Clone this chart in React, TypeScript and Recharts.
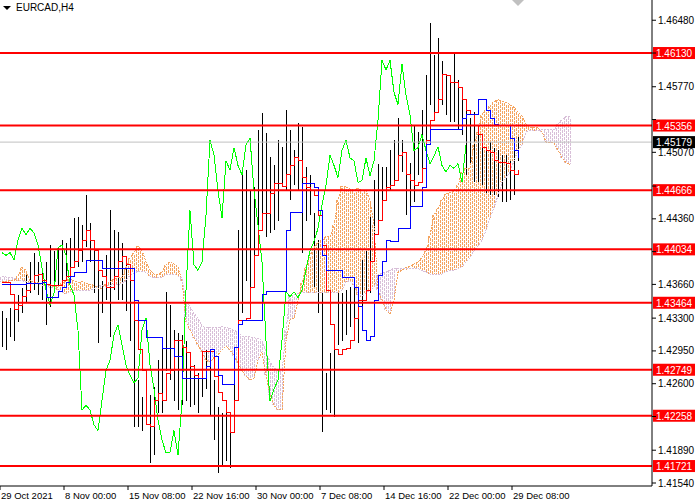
import { ComposedChart, Bar, Line, XAxis, YAxis, ReferenceLine, ReferenceDot } from "recharts";

// time axis, one slot = 4px (two H4 bars)
const TIME_TICKS = [0, 16, 32, 48, 64, 80, 96, 112, 128];
const TIME_LABELS = [
  "29 Oct 2021", "8 Nov 00:00", "15 Nov 08:00", "22 Nov 16:00", "30 Nov 00:00",
  "7 Dec 08:00", "14 Dec 16:00", "22 Dec 00:00", "29 Dec 08:00",
];
const PRICE_TICKS = [
  1.4648, 1.4613, 1.4577, 1.4542, 1.4507, 1.4471, 1.4436, 1.4401, 1.4366, 1.433,
  1.4295, 1.426, 1.4225, 1.4189, 1.4154,
];
const LEVELS = [1.4613, 1.45356, 1.44666, 1.44034, 1.43464, 1.42749, 1.42258, 1.41721];
const BID = 1.45179;

const HIGH = [
  1.4338, 1.4330, 1.4341, 1.4344, 1.4355, 1.4362, 1.4376, 1.4390, 1.4400, 1.4390,
  1.4384, 1.4390, 1.4408, 1.4402, 1.4405, 1.4413, 1.4410, 1.4416, 1.4437, 1.4438,
  1.4429, 1.4461, 1.4432, 1.4413, 1.4384, 1.4370, 1.4397, 1.4445, 1.4424, 1.4422,
  1.4410, 1.4395, 1.4370, 1.4328, 1.4264, 1.4246, 1.4242, 1.4248, 1.4257, 1.4285,
  1.4299, 1.4358, 1.4344, 1.4317, 1.4314, 1.4312, 1.4306, 1.4282, 1.4280, 1.4271,
  1.4291, 1.4296, 1.4278, 1.4264, 1.4235, 1.4229, 1.4232, 1.4214, 1.4274, 1.4424,
  1.4488, 1.4488, 1.4466, 1.4470, 1.4531, 1.4549, 1.4528, 1.4502, 1.4493, 1.4520,
  1.4513, 1.4552, 1.4531, 1.4509, 1.4538, 1.4534, 1.4491, 1.4483, 1.4442, 1.4413,
  1.4357, 1.4271, 1.4293, 1.4296, 1.4357, 1.4357, 1.4360, 1.4363, 1.4363, 1.4353,
  1.4392, 1.4402, 1.4438, 1.4477, 1.4495, 1.4491, 1.4491, 1.4509, 1.4520, 1.4544,
  1.4520, 1.4504, 1.4496, 1.4536, 1.4529, 1.4552, 1.4590, 1.4645, 1.4611, 1.4629,
  1.4605, 1.4590, 1.4587, 1.4613, 1.4584, 1.4568, 1.4555, 1.4544, 1.4550, 1.4526,
  1.4520, 1.4512, 1.4518, 1.4512, 1.4509, 1.4504, 1.4504, 1.4498, 1.4509, 1.4523,
];
const LOW = [
  1.4299, 1.4296, 1.4310, 1.4306, 1.4326, 1.4335, 1.4346, 1.4357, 1.4360, 1.4355,
  1.4349, 1.4323, 1.4342, 1.4358, 1.4365, 1.4368, 1.4374, 1.4379, 1.4389, 1.4385,
  1.4390, 1.4406, 1.4390, 1.4357, 1.4303, 1.4335, 1.4349, 1.4310, 1.4360, 1.4349,
  1.4349, 1.4338, 1.4306, 1.4214, 1.4214, 1.4210, 1.4218, 1.4175, 1.4184, 1.4229,
  1.4229, 1.4274, 1.4264, 1.4242, 1.4232, 1.4237, 1.4242, 1.4235, 1.4237, 1.4229,
  1.4246, 1.4254, 1.4225, 1.4200, 1.4165, 1.4173, 1.4178, 1.4170, 1.4210, 1.4278,
  1.4335, 1.4370, 1.4338, 1.4374, 1.4424, 1.4434, 1.4417, 1.4421, 1.4424, 1.4434,
  1.4472, 1.4466, 1.4456, 1.4472, 1.4466, 1.4399, 1.4434, 1.4440, 1.4363, 1.4335,
  1.4208, 1.4232, 1.4229, 1.4224, 1.4301, 1.4306, 1.4312, 1.4321, 1.4314, 1.4303,
  1.4338, 1.4357, 1.4357, 1.4406, 1.4434, 1.4440, 1.4466, 1.4466, 1.4475, 1.4480,
  1.4486, 1.4440, 1.4448, 1.4454, 1.4483, 1.4488, 1.4493, 1.4558, 1.4547, 1.4558,
  1.4558, 1.4547, 1.4539, 1.4539, 1.4531, 1.4526, 1.4483, 1.4493, 1.4475, 1.4475,
  1.4472, 1.4464, 1.4461, 1.4461, 1.4459, 1.4454, 1.4454, 1.4456, 1.4461, 1.4498,
];
const TENKAN = [
  1.4368, 1.4368, 1.4355, 1.4339, 1.4344, 1.4353, 1.4360, 1.4367, 1.4376, 1.4377,
  1.4370, 1.4366, 1.4365, 1.4365, 1.4365, 1.4370, 1.4374, 1.4384, 1.4390, 1.4402,
  1.4413, 1.4424, 1.4413, 1.4402, 1.4381, 1.4374, 1.4363, 1.4363, 1.4374, 1.4390,
  1.4396, 1.4387, 1.4370, 1.4328, 1.4296, 1.4274, 1.4216, 1.4214, 1.4242, 1.4250,
  1.4242, 1.4271, 1.4274, 1.4306, 1.4306, 1.4299, 1.4293, 1.4278, 1.4269, 1.4266,
  1.4294, 1.4294, 1.4294, 1.4268, 1.4251, 1.4242, 1.4229, 1.4208, 1.4242, 1.4328,
  1.4328, 1.4330, 1.4363, 1.4397, 1.4424, 1.4442, 1.4442, 1.4463, 1.4474, 1.4474,
  1.4470, 1.4483, 1.4493, 1.4502, 1.4498, 1.4480, 1.4469, 1.4466, 1.4461, 1.4440,
  1.4408, 1.4360, 1.4323, 1.4296, 1.4291, 1.4296, 1.4298, 1.4306, 1.4330, 1.4349,
  1.4349, 1.4360, 1.4390, 1.4419, 1.4434, 1.4456, 1.4469, 1.4472, 1.4477, 1.4504,
  1.4507, 1.4483, 1.4477, 1.4472, 1.4475, 1.4490, 1.4520, 1.4541, 1.4550, 1.4563,
  1.4590, 1.4589, 1.4582, 1.4582, 1.4576, 1.4563, 1.4552, 1.4547, 1.4536, 1.4526,
  1.4512, 1.4509, 1.4507, 1.4498, 1.4496, 1.4496, 1.4495, 1.4488, 1.4483, 1.4488,
];
const KIJUN = [
  1.4366, 1.4366, 1.4366, 1.4366, 1.4366, 1.4366, 1.4367, 1.4367, 1.4367, 1.4367,
  1.4368, 1.4352, 1.4352, 1.4352, 1.4358, 1.4363, 1.4368, 1.4374, 1.4379, 1.4379,
  1.4379, 1.4391, 1.4391, 1.4391, 1.4391, 1.4383, 1.4383, 1.4383, 1.4383, 1.4383,
  1.4383, 1.4383, 1.4383, 1.4349, 1.4328, 1.4328, 1.4309, 1.4309, 1.4309, 1.4309,
  1.4298, 1.4298, 1.4298, 1.4289, 1.4289, 1.4266, 1.4266, 1.4266, 1.4266, 1.4266,
  1.4266, 1.4278, 1.4296, 1.4289, 1.4269, 1.4259, 1.4259, 1.4259, 1.4299, 1.4323,
  1.4328, 1.4328, 1.4328, 1.4328, 1.4328, 1.4355, 1.4358, 1.4358, 1.4358, 1.4358,
  1.4358, 1.4424, 1.4443, 1.4443, 1.4443, 1.4474, 1.4474, 1.4474, 1.4469, 1.4445,
  1.4397, 1.4381, 1.4381, 1.4381, 1.4381, 1.4373, 1.4373, 1.4373, 1.4363, 1.4342,
  1.4317, 1.4306, 1.4310, 1.4349, 1.4376, 1.4390, 1.4413, 1.4412, 1.4412, 1.4426,
  1.4426, 1.4426, 1.4449, 1.4449, 1.4449, 1.4469, 1.4515, 1.4531, 1.4531, 1.4531,
  1.4531, 1.4531, 1.4531, 1.4531, 1.4531, 1.4543, 1.4547, 1.4547, 1.4547, 1.4563,
  1.4563, 1.4552, 1.4543, 1.4537, 1.4536, 1.4536, 1.4536, 1.4522, 1.4509, 1.4501,
];
const CHIKOU = [
  1.4400, 1.4397, 1.4400, 1.4392, 1.4413, 1.4426, 1.4419, 1.4426, 1.4421, 1.4408,
  1.4384, 1.4360, 1.4344, 1.4357, 1.4405, 1.4408, 1.4397, 1.4365, 1.4355, 1.4317,
  1.4232, 1.4237, 1.4232, 1.4216, 1.4210, 1.4242, 1.4274, 1.4285, 1.4312, 1.4323,
  1.4301, 1.4280, 1.4269, 1.4261, 1.4266, 1.4317, 1.4330, 1.4280, 1.4254, 1.4221,
  1.4200, 1.4186, 1.4187, 1.4210, 1.4184, 1.4242, 1.4360, 1.4445, 1.4387, 1.4381,
  1.4390, 1.4440, 1.4520, 1.4504, 1.4466, 1.4437, 1.4498, 1.4488, 1.4512, 1.4493,
  1.4483, 1.4515, 1.4522, 1.4466, 1.4429, 1.4390, 1.4306, 1.4242, 1.4254, 1.4264,
  1.4306, 1.4358, 1.4353, 1.4358, 1.4352, 1.4360, 1.4381, 1.4402, 1.4412, 1.4426,
  1.4451, 1.4472, 1.4504, 1.4493, 1.4480, 1.4509, 1.4520, 1.4501, 1.4498, 1.4475,
  1.4477, 1.4501, 1.4482, 1.4498, 1.4541, 1.4605, 1.4595, 1.4605, 1.4571, 1.4558,
  1.4601, 1.4568, 1.4547, 1.4509, 1.4512, 1.4526, 1.4509, 1.4495, 1.4503, 1.4513,
  1.4493, 1.4486, 1.4493, 1.4490, 1.4495, 1.4475, 1.4515,
];
const SPAN_A = [
  1.4369, 1.4369, 1.4370, 1.4370, 1.4375, 1.4384, 1.4381, 1.4370, 1.4368, 1.4368,
  1.4367, 1.4366, 1.4365, 1.4364, 1.4363, 1.4367, 1.4370, 1.4372, 1.4370, 1.4368,
  1.4369, 1.4367, 1.4366, 1.4365, 1.4362, 1.4362, 1.4366, 1.4369, 1.4372, 1.4373,
  1.4373, 1.4384, 1.4394, 1.4400, 1.4407, 1.4402, 1.4390, 1.4381, 1.4377, 1.4376,
  1.4379, 1.4387, 1.4390, 1.4388, 1.4384, 1.4370, 1.4326, 1.4317, 1.4309, 1.4301,
  1.4294, 1.4285, 1.4283, 1.4288, 1.4291, 1.4296, 1.4300, 1.4296, 1.4290, 1.4282,
  1.4274, 1.4268, 1.4264, 1.4266, 1.4285, 1.4294, 1.4269, 1.4248, 1.4237, 1.4232,
  1.4232, 1.4306, 1.4328, 1.4330, 1.4349, 1.4367, 1.4384, 1.4397, 1.4405, 1.4410,
  1.4413, 1.4417, 1.4417, 1.4429, 1.4456, 1.4471, 1.4470, 1.4468, 1.4466, 1.4469,
  1.4466, 1.4466, 1.4456, 1.4429, 1.4360, 1.4349, 1.4339, 1.4334, 1.4349, 1.4379,
  1.4381, 1.4384, 1.4385, 1.4388, 1.4390, 1.4394, 1.4402, 1.4418, 1.4440, 1.4447,
  1.4456, 1.4463, 1.4464, 1.4466, 1.4472, 1.4486, 1.4490, 1.4490, 1.4515, 1.4529,
  1.4547, 1.4552, 1.4556, 1.4561, 1.4563, 1.4562, 1.4560, 1.4558, 1.4555, 1.4550,
  1.4546, 1.4537, 1.4534, 1.4534, 1.4533, 1.4529, 1.4518, 1.4517, 1.4517, 1.4509,
  1.4501, 1.4496, 1.4494,
];
const SPAN_B = [
  1.4374, 1.4374, 1.4373, 1.4373, 1.4370, 1.4370, 1.4369, 1.4368, 1.4367, 1.4367,
  1.4365, 1.4364, 1.4363, 1.4362, 1.4360, 1.4358, 1.4356, 1.4358, 1.4360, 1.4360,
  1.4360, 1.4359, 1.4360, 1.4361, 1.4364, 1.4365, 1.4364, 1.4365, 1.4366, 1.4366,
  1.4367, 1.4370, 1.4376, 1.4378, 1.4380, 1.4380, 1.4379, 1.4375, 1.4373, 1.4373,
  1.4374, 1.4376, 1.4377, 1.4377, 1.4375, 1.4373, 1.4347, 1.4343, 1.4335, 1.4330,
  1.4321, 1.4320, 1.4320, 1.4320, 1.4320, 1.4321, 1.4320, 1.4319, 1.4317, 1.4315,
  1.4311, 1.4310, 1.4310, 1.4309, 1.4308, 1.4306, 1.4294, 1.4283, 1.4277, 1.4274,
  1.4272, 1.4317, 1.4354, 1.4355, 1.4356, 1.4357, 1.4357, 1.4357, 1.4357, 1.4357,
  1.4357, 1.4357, 1.4357, 1.4357, 1.4357, 1.4360, 1.4369, 1.4370, 1.4365, 1.4355,
  1.4353, 1.4357, 1.4360, 1.4363, 1.4376, 1.4378, 1.4379, 1.4381, 1.4383, 1.4383,
  1.4383, 1.4383, 1.4383, 1.4383, 1.4383, 1.4381, 1.4379, 1.4377, 1.4377, 1.4377,
  1.4377, 1.4379, 1.4381, 1.4381, 1.4383, 1.4385, 1.4390, 1.4394, 1.4402, 1.4407,
  1.4413, 1.4424, 1.4437, 1.4448, 1.4461, 1.4475, 1.4480, 1.4486, 1.4498, 1.4509,
  1.4515, 1.4529, 1.4530, 1.4530, 1.4530, 1.4531, 1.4531, 1.4531, 1.4531, 1.4537,
  1.4542, 1.4545, 1.4545,
];

const rows = SPAN_A.map((a, i) => {
  const b = SPAN_B[i];
  return {
    x: i + 0.5,
    range: i < HIGH.length ? [LOW[i], HIGH[i]] : undefined,
    tenkan: TENKAN[i],
    kijun: KIJUN[i],
    chikou: CHIKOU[i],
    spanA: a,
    spanB: b,
    cloud: [Math.min(a, b), Math.max(a, b)],
  };
});

const FONT = "Liberation Sans";

// price labels that sit under a level tag are not drawn
const covered = (v: number) =>
  [...LEVELS, BID].some((lv) => Math.abs(lv - v) < 0.0008);

function PriceBar(props: any) {
  const { x, y, width, height } = props;
  if (y == null || height == null || isNaN(y)) return null;
  const cx = Math.round(x + width / 2) + 0.5;
  return (
    <line x1={cx} x2={cx} y1={y} y2={y + height} stroke="#000" strokeWidth={1} shapeRendering="crispEdges" />
  );
}

function CloudHatch(props: any) {
  const { x, y, width, height, payload } = props;
  if (y == null || height == null || isNaN(y)) return null;
  const color = payload.spanA >= payload.spanB ? "#f4a460" : "#d8bfd8";
  const cx = Math.round(x + width / 2);
  return (
    <g stroke={color} strokeWidth={1} strokeDasharray="3 1" shapeRendering="crispEdges">
      <line x1={cx - 1.5} x2={cx - 1.5} y1={y} y2={y + height} />
      <line x1={cx + 0.5} x2={cx + 0.5} y1={y + 2} y2={y + height} />
    </g>
  );
}

function PriceTag({ viewBox, text, bg }: any) {
  if (!viewBox) return null;
  const x = viewBox.x + viewBox.width + 1;
  const y = viewBox.y;
  return (
    <g>
      <rect x={x} y={y - 6} width={42} height={12} fill={bg} />
      <text x={x + 3} y={y + 4} fill="#fff" fontSize={10} fontFamily={FONT}>
        {text}
      </text>
    </g>
  );
}

function PriceTick({ x, y, payload }: any) {
  if (covered(payload.value)) return null;
  return (
    <text x={x} y={y + 3.5} fontSize={10} fontFamily={FONT} fill="#000">
      {payload.value.toFixed(5)}
    </text>
  );
}

function TimeTick({ x, y, payload }: any) {
  const idx = TIME_TICKS.indexOf(payload.value);
  return (
    <text x={x + 1} y={y + 6.5} fontSize={9.5} fontFamily={FONT} fill="#000">
      {TIME_LABELS[idx]}
    </text>
  );
}

function ShiftMark({ cx }: any) {
  return <polygon points={`${cx - 6},0 ${cx + 6},0 ${cx},6`} fill="#c0c0c0" />;
}

const lineProps = {
  dot: false,
  activeDot: false,
  isAnimationActive: false,
  strokeWidth: 1,
  shapeRendering: "crispEdges",
} as const;

export default function App() {
  return (
    <div style={{ position: "absolute", left: 0, top: 0, width: 700, height: 500, background: "#fff" }}>
      <ComposedChart
        width={700}
        height={500}
        data={rows}
        margin={{ top: 0, right: 0, bottom: 0, left: 0 }}
        barGap={-1}
      >
        <XAxis
          dataKey="x"
          type="number"
          domain={[0, 163]}
          allowDataOverflow
          ticks={TIME_TICKS}
          interval={0}
          tick={<TimeTick />}
          height={14}
          axisLine={{ stroke: "#000" }}
          tickLine={{ stroke: "#000" }}
          tickSize={4}
        />
        <YAxis
          orientation="right"
          type="number"
          domain={[1.41508, 1.46696]}
          allowDataOverflow
          ticks={PRICE_TICKS}
          interval={0}
          tick={<PriceTick />}
          width={48}
          axisLine={{ stroke: "#000" }}
          tickLine={{ stroke: "#000" }}
          tickSize={4}
          tickMargin={2}
        />
        <Bar dataKey="cloud" barSize={1} shape={<CloudHatch />} isAnimationActive={false} />
        <Bar dataKey="range" barSize={1} shape={<PriceBar />} isAnimationActive={false} />
        <Line dataKey="spanA" type="linear" stroke="#f4a460" strokeDasharray="2 1" {...lineProps} />
        <Line dataKey="spanB" type="linear" stroke="#d8bfd8" strokeDasharray="2 1" {...lineProps} />
        <Line dataKey="chikou" type="linear" stroke="#00ff00" {...lineProps} />
        <Line dataKey="tenkan" type="stepAfter" stroke="#ff0000" {...lineProps} />
        <Line dataKey="kijun" type="stepAfter" stroke="#0000ff" {...lineProps} />
        <ReferenceLine y={BID} stroke="#c0c0c0" strokeWidth={1} label={<PriceTag text={BID.toFixed(5)} bg="#000" />} />
        {LEVELS.map((lv) => (
          <ReferenceLine
            key={lv}
            y={lv}
            stroke="#ff0000"
            strokeWidth={2}
            label={<PriceTag text={lv.toFixed(5)} bg="#ff0000" />}
          />
        ))}
        <ReferenceDot x={129.5} y={1.46696} r={6} shape={<ShiftMark />} ifOverflow="visible" />
      </ComposedChart>
      <div
        style={{
          position: "absolute",
          left: 3,
          top: 6,
          width: 0,
          height: 0,
          borderLeft: "4px solid transparent",
          borderRight: "4px solid transparent",
          borderTop: "4px solid #000",
        }}
      />
      <div style={{ position: "absolute", left: 16, top: 2, fontSize: 10, fontFamily: FONT, color: "#000" }}>
        EURCAD,H4
      </div>
    </div>
  );
}
